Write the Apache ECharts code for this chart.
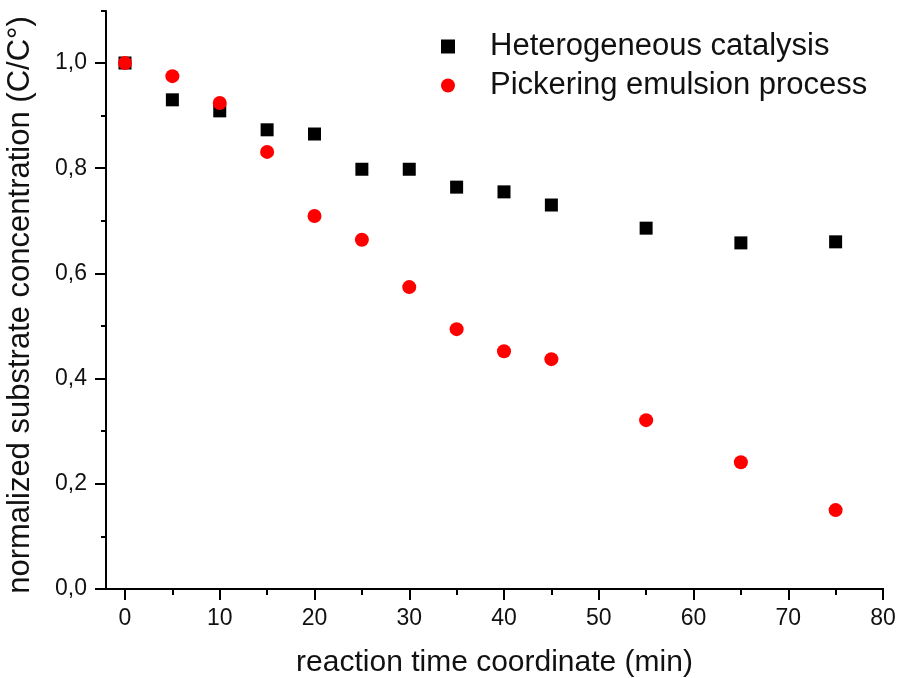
<!DOCTYPE html>
<html>
<head>
<meta charset="utf-8">
<script src="https://cdn.jsdelivr.net/npm/echarts@6/dist/echarts.min.js"></script>
<style>
  html, body { margin: 0; padding: 0; background: #fff; }
  #chart { width: 900px; height: 678px; }
</style>
</head>
<body>
<div id="chart"></div>
<script>
// reaction time (min)
var times = [0, 5, 10, 15, 20, 25, 30, 35, 40, 45, 55, 65, 75]
var heterogeneous = [1.0, 0.930, 0.909, 0.873, 0.865, 0.798, 0.798, 0.764, 0.755, 0.730, 0.686, 0.658, 0.660]
var pickering = [1.0, 0.975, 0.924, 0.831, 0.709, 0.664, 0.574, 0.494, 0.452, 0.437, 0.321, 0.241, 0.150]

function pairs(xs, ys) {
  return xs.map(function (x, i) { return [x, ys[i]] })
}

function line() {
  return { color: '#000', width: 2 }
}

function box(left, top) {
  return { left: left, right: 17, top: top, bottom: 89, outerBoundsMode: 'none', containLabel: false }
}

function hidden(grid, min, max) {
  return { gridIndex: grid, type: 'value', min: min, max: max, show: false }
}

// an axis that only draws ticks
function tickAxis(grid, pos, min, max, step, len) {
  return {
    gridIndex: grid, type: 'value', position: pos, min: min, max: max, interval: step,
    axisLine: { show: true, onZero: false, lineStyle: line() },
    axisTick: { show: true, inside: false, length: len, lineStyle: line() },
    axisLabel: { show: false }, splitLine: { show: false }
  }
}

// an axis that only draws labels
function labelAxis(grid, pos, min, max, step, margin, fmt) {
  return {
    gridIndex: grid, type: 'value', position: pos, min: min, max: max, interval: step,
    axisLine: { show: false, onZero: false }, axisTick: { show: false }, splitLine: { show: false },
    axisLabel: { fontSize: 23, color: '#111', margin: margin, formatter: fmt }
  }
}

var font = 'Liberation Sans, Arial, sans-serif'
var chart = echarts.init(document.getElementById('chart'))

chart.setOption({
  animation: false,
  textStyle: { fontFamily: font },
  legend: {
    orient: 'vertical',
    left: 436,
    top: 26,
    itemWidth: 14,
    itemHeight: 14,
    itemGap: 8,
    textStyle: { fontSize: 31, color: '#111', padding: [0, 0, 0, 30] },
    data: ['Heterogeneous catalysis', 'Pickering emulsion process']
  },
  grid: [
    box(106, 11),  // 0 frame: x -2..80, y 0..1.1
    box(125, 63),  // 1 data: x 0..80, y 0..1.0
    box(125, 63),  // 2 x major ticks
    box(125, 63),  // 3 x minor ticks
    box(125, 63),  // 4 x labels
    box(106, 63),  // 5 y major ticks
    box(106, 63),  // 6 y minor ticks
    box(106, 63)   // 7 y labels
  ],
  xAxis: [
    {
      gridIndex: 0, type: 'value', min: -2, max: 80,
      axisLine: { show: true, onZero: false, lineStyle: line() },
      axisTick: { show: false }, axisLabel: { show: false }, splitLine: { show: false },
      name: 'reaction time coordinate (min)', nameLocation: 'middle', nameGap: 59,
      nameTextStyle: { fontSize: 30, color: '#111' }
    },
    hidden(1, 0, 80),
    tickAxis(2, 'bottom', 0, 80, 10, 11),
    tickAxis(3, 'bottom', 0, 80, 5, 6),
    labelAxis(4, 'bottom', 0, 80, 10, 18),
    hidden(5, 0, 80),
    hidden(6, 0, 80),
    hidden(7, 0, 80)
  ],
  yAxis: [
    {
      gridIndex: 0, type: 'value', min: 0, max: 1.1, interval: 1.1,
      axisLine: { show: true, onZero: false, lineStyle: line() },
      axisTick: { show: true, length: 5, lineStyle: line() },
      axisLabel: { show: false }, splitLine: { show: false },
      name: 'normalized substrate concentration (C/C°)', nameLocation: 'middle', nameGap: 70,
      nameTextStyle: { fontSize: 31, color: '#111', padding: [0, 10, 0, 0] }
    },
    hidden(1, 0, 1),
    hidden(2, 0, 1),
    hidden(3, 0, 1),
    hidden(4, 0, 1),
    tickAxis(5, 'left', 0, 1, 0.2, 11),
    tickAxis(6, 'left', 0, 1, 0.1, 5),
    labelAxis(7, 'left', 0, 1, 0.2, 19, function (v) {
      return v.toFixed(1).replace('.', ',')
    })
  ],
  series: [
    {
      name: 'Heterogeneous catalysis', type: 'scatter',
      xAxisIndex: 1, yAxisIndex: 1,
      symbol: 'rect', symbolSize: 13,
      itemStyle: { color: '#000', opacity: 1 },
      data: pairs(times, heterogeneous)
    },
    {
      name: 'Pickering emulsion process', type: 'scatter',
      xAxisIndex: 1, yAxisIndex: 1,
      symbol: 'circle', symbolSize: 14,
      itemStyle: { color: '#ff0000', opacity: 1 },
      data: pairs(times, pickering)
    }
  ]
})
</script>
</body>
</html>
